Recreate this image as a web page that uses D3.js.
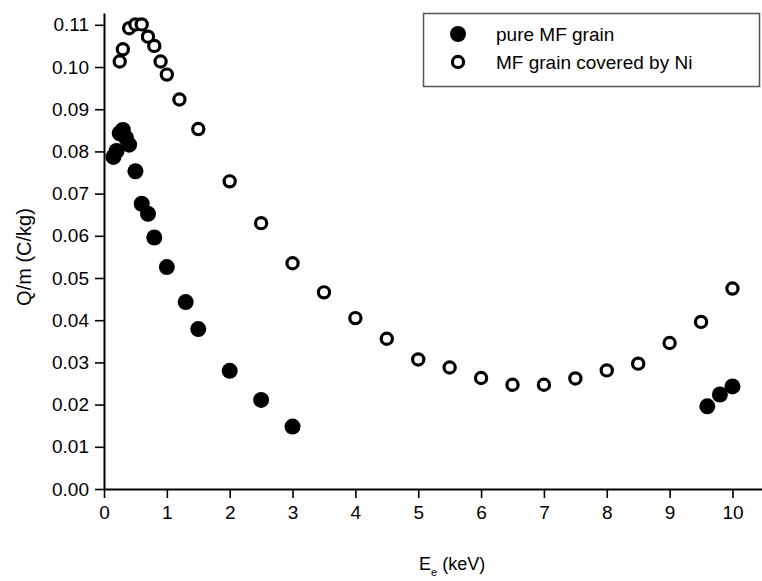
<!DOCTYPE html>
<html>
<head>
<meta charset="utf-8">
<script src="https://cdn.jsdelivr.net/npm/d3@7"></script>
<style>
  body { margin: 0; background: #fff; }
  svg { font-family: Arial, "Liberation Sans", sans-serif; }
</style>
</head>
<body>
<svg id="chart" width="762" height="581"></svg>
<script>
// pure MF grain
var pureE = [0.15, 0.2, 0.25, 0.3, 0.35, 0.4, 0.5, 0.6, 0.7, 0.8, 1.0, 1.3, 1.5, 2.0, 2.5, 3.0, 9.6, 9.8, 10.0];
var pureQ = [0.0787, 0.0801, 0.0843, 0.0851, 0.0832, 0.0816, 0.0753, 0.0676, 0.0652, 0.0596, 0.0526, 0.0443, 0.0379, 0.0280, 0.0211, 0.0148, 0.0196, 0.0224, 0.0243];

// MF grain covered by Ni
var niE = [0.25, 0.3, 0.4, 0.5, 0.6, 0.7, 0.8, 0.9, 1.0, 1.2, 1.5, 2.0, 2.5, 3.0, 3.5, 4.0, 4.5, 5.0, 5.5, 6.0, 6.5, 7.0, 7.5, 8.0, 8.5, 9.0, 9.5, 10.0];
var niQ = [0.1013, 0.1042, 0.1092, 0.1101, 0.1101, 0.1072, 0.1050, 0.1013, 0.0982, 0.0923, 0.0853, 0.0729, 0.0630, 0.0535, 0.0466, 0.0405, 0.0356, 0.0307, 0.0288, 0.0263, 0.0247, 0.0247, 0.0262, 0.0281, 0.0297, 0.0346, 0.0396, 0.0475];

// ticks
var xMajor = d3.range(0, 11, 1);
var xMinor = d3.range(0.5, 10.5, 1);
var yMajor = d3.range(0, 12).map(function(i){ return i / 100; });
var yMinor = d3.range(0, 12).map(function(i){ return i / 100 + 0.005; });

var legendLabels = ["pure MF grain", "MF grain covered by Ni"];

var svg = d3.select("#chart");

//Scales, origin at (104, 489)
var x = d3.scaleLinear().domain([0, 10.47]).range([104, 762]);
var y = d3.scaleLinear().domain([0, 0.1128]).range([489, 13]);

//X axis, ticks point outward
var gx = svg.append("g").attr("transform", "translate(0," + y(0) + ")");
gx.call(d3.axisBottom(x).tickValues(xMinor).tickSize(4).tickFormat("").tickSizeOuter(0));
gx.call(d3.axisBottom(x).tickValues(xMajor).tickSize(9).tickPadding(8).tickFormat(d3.format("d")).tickSizeOuter(0));

//Y axis
var gy = svg.append("g").attr("transform", "translate(" + x(0) + ",0)");
gy.call(d3.axisLeft(y).tickValues(yMinor).tickSize(4).tickFormat("").tickSizeOuter(0));
gy.call(d3.axisLeft(y).tickValues(yMajor).tickSize(9).tickPadding(6).tickFormat(d3.format(".2f")).tickSizeOuter(0));

svg.selectAll(".domain").attr("stroke", "#000").attr("stroke-width", 2);
svg.selectAll(".tick line").attr("stroke", "#000").attr("stroke-width", 1.6);
svg.selectAll(".tick text").attr("fill", "#000").style("font-size", "19px");

//Axis titles
var xt = svg.append("text")
    .attr("x", 419).attr("y", 570)
    .style("font-size", "18px");
xt.append("tspan").text("E");
xt.append("tspan").attr("dy", 6).style("font-size", "11px").text("e");
xt.append("tspan").attr("dy", -6).text(" (keV)");

svg.append("text")
    .attr("transform", "translate(31," + 257 + ") rotate(-90)")
    .attr("text-anchor", "middle")
    .style("font-size", "20px")
    .text("Q/m (C/kg)");

//Points
svg.append("g").selectAll("circle")
    .data(pureE.map(function(e, i){ return [e, pureQ[i]]; }))
    .join("circle")
    .attr("cx", function(d){ return x(d[0]); })
    .attr("cy", function(d){ return y(d[1]); })
    .attr("r", 8)
    .attr("fill", "#000");

svg.append("g").selectAll("circle")
    .data(niE.map(function(e, i){ return [e, niQ[i]]; }))
    .join("circle")
    .attr("cx", function(d){ return x(d[0]); })
    .attr("cy", function(d){ return y(d[1]); })
    .attr("r", 5.6)
    .attr("fill", "#fff")
    .attr("stroke", "#000")
    .attr("stroke-width", 3.2);

//Legend
var lg = svg.append("g");
lg.append("rect")
    .attr("x", 423.5).attr("y", 13.5)
    .attr("width", 336).attr("height", 73)
    .attr("fill", "#fff")
    .attr("stroke", "#555")
    .attr("stroke-width", 1.5);
lg.append("circle").attr("cx", 458).attr("cy", 34).attr("r", 8).attr("fill", "#000");
lg.append("circle").attr("cx", 458).attr("cy", 62).attr("r", 5.6)
    .attr("fill", "#fff").attr("stroke", "#000").attr("stroke-width", 3.2);
legendLabels.forEach(function(t, i){
    lg.append("text")
        .attr("x", 496).attr("y", 41 + i * 28)
        .style("font-size", "19px")
        .text(t);
});
</script>
</body>
</html>
